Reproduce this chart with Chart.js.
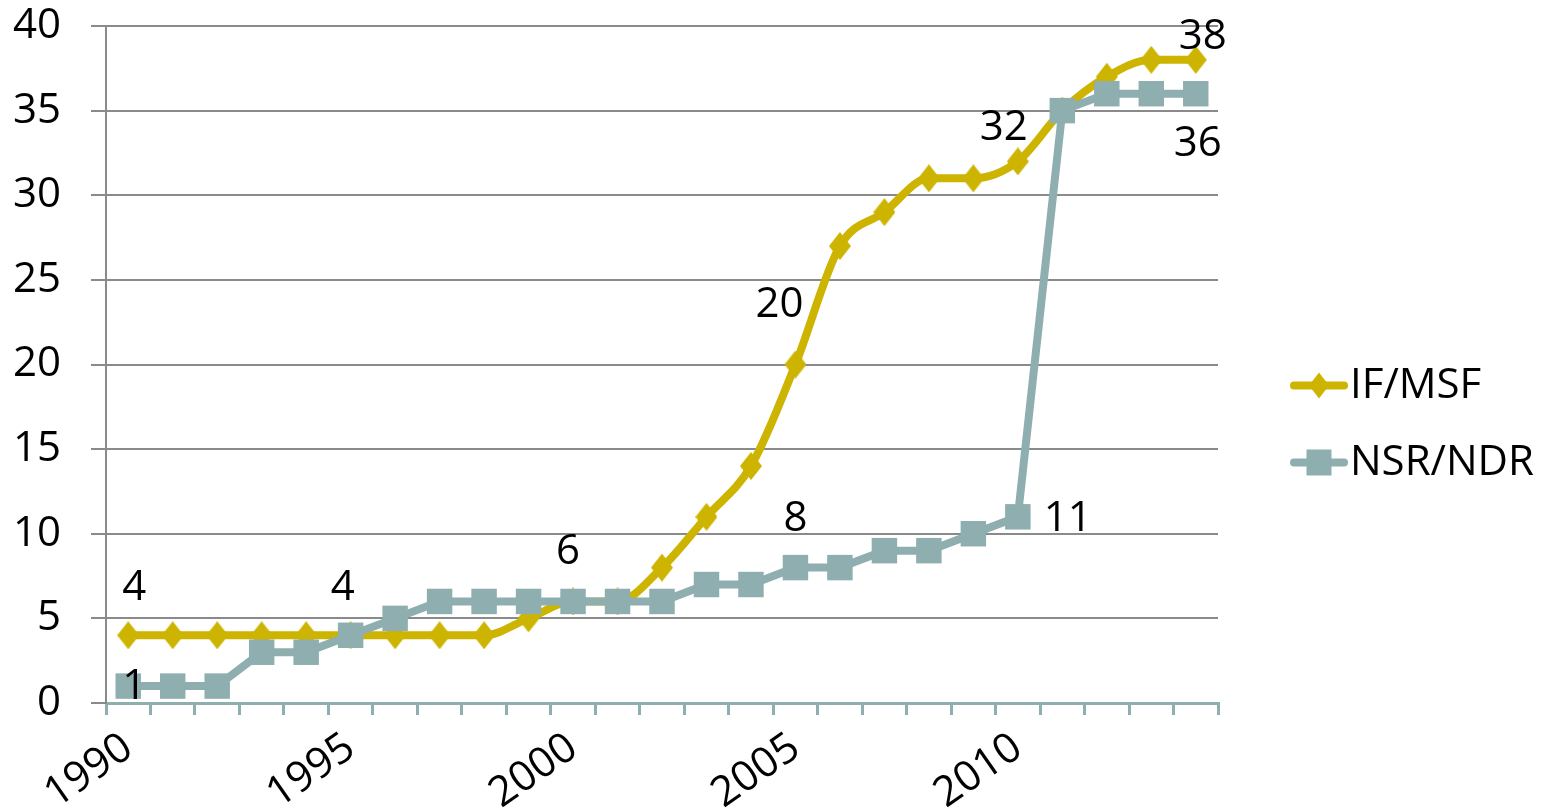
<!DOCTYPE html>
<html>
<head>
<meta charset="utf-8">
<script src="https://cdn.jsdelivr.net/npm/chart.js@4.4.1/dist/chart.umd.min.js"></script>
<style>
    html, body { margin: 0; padding: 0; background: #ffffff; }
</style>
</head>
<body>
<canvas id="growthChart" width="1547" height="810"></canvas>
<script>
const years = ['1990','1991','1992','1993','1994','1995','1996','1997','1998','1999','2000','2001','2002',
               '2003','2004','2005','2006','2007','2008','2009','2010','2011','2012','2013','2014'];
const shownYears = ['1990','1995','2000','2005','2010'];
const ifMsf = [4,4,4,4,4,4,4,4,4,5,6,6,8,11,14,20,27,29,31,31,32,35,37,38,38];
const nsrNdr = [1,1,1,3,3,4,5,6,6,6,6,6,6,7,7,8,8,9,9,10,11,35,36,36,36];
const yTicks = [0,5,10,15,20,25,30,35,40];
const seriesNames = ['IF/MSF','NSR/NDR'];
// which points carry a value label
const ifLabelled = [0,5,10,15,20,24];
const nsrLabelled = [0,15,20,24];

const GOLD = '#CDB400';
const TEAL = '#8EAEAF';
const GRID = '#8A8A8A';
const FONT = "'Open Sans', 'Liberation Sans', sans-serif";

// label offsets (px) from the point, per dataset index
const labelOffsets = [
    {0:[6,-47], 5:[-8,-47], 10:[-5,-49], 15:[-16,-59], 20:[-14,-33], 24:[7,-23]},
    {0:[6,1], 15:[0,-49], 20:[50,2], 24:[2,50]}
];

// Excel style diamond: a bit taller than wide
function makeDiamond(w, h, color) {
    const c = document.createElement('canvas');
    c.width = w;
    c.height = h;
    const g = c.getContext('2d');
    g.fillStyle = color;
    g.beginPath();
    g.moveTo(w / 2, 0);
    g.lineTo(w, h / 2);
    g.lineTo(w / 2, h);
    g.lineTo(0, h / 2);
    g.closePath();
    g.fill();
    return c;
}
const diamond = makeDiamond(22, 28, GOLD);

// draws the numbers next to the points
const valueLabels = {
    id: 'valueLabels',
    afterDatasetsDraw(chart) {
        const ctx = chart.ctx;
        const picks = [ifLabelled, nsrLabelled];
        ctx.save();
        ctx.font = '42px ' + FONT;
        ctx.fillStyle = '#000';
        ctx.textAlign = 'center';
        ctx.textBaseline = 'middle';
        chart.data.datasets.forEach((ds, d) => {
            const meta = chart.getDatasetMeta(d);
            picks[d].forEach(i => {
                const pt = meta.data[i];
                const off = labelOffsets[d][i];
                ctx.fillText(String(ds.data[i]), pt.x + off[0], pt.y + off[1]);
            });
        });
        ctx.restore();
    }
};

// legend on the right: line + marker + name
const sideLegend = {
    id: 'sideLegend',
    afterDraw(chart) {
        const ctx = chart.ctx;
        const area = chart.chartArea;
        const x0 = area.right + 72;
        const mid = (area.top + area.bottom) / 2;
        const rows = [mid + 21, mid + 98];
        ctx.save();
        chart.data.datasets.forEach((ds, d) => {
            const y = rows[d];
            ctx.strokeStyle = ds.borderColor;
            ctx.lineWidth = 8;
            ctx.lineCap = 'round';
            ctx.beginPath();
            ctx.moveTo(x0 + 4, y);
            ctx.lineTo(x0 + 54, y);
            ctx.stroke();
            ctx.fillStyle = ds.borderColor;
            const cx = x0 + 29;
            ctx.beginPath();
            if (d === 0) {
                ctx.moveTo(cx, y - 13);
                ctx.lineTo(cx + 10, y);
                ctx.lineTo(cx, y + 13);
                ctx.lineTo(cx - 10, y);
                ctx.closePath();
            } else {
                ctx.rect(cx - 12.5, y - 13, 25, 26);
            }
            ctx.fill();
            ctx.fillStyle = '#000';
            ctx.font = '42px ' + FONT;
            ctx.textAlign = 'left';
            ctx.textBaseline = 'middle';
            ctx.fillText(ds.label, x0 + 60, y + 1);
        });
        ctx.restore();
    }
};

const ctx = document.getElementById('growthChart').getContext('2d');
const growthChart = new Chart(ctx, {
    type: 'line',
    data: {
        labels: years,
        datasets: [{
            label: seriesNames[0],
            data: ifMsf,
            borderColor: GOLD,
            backgroundColor: GOLD,
            borderWidth: 8,
            cubicInterpolationMode: 'monotone',
            borderJoinStyle: 'round',
            borderCapStyle: 'round',
            pointStyle: diamond,
            pointRadius: 13,
            pointBorderWidth: 0,
            order: 1
        }, {
            label: seriesNames[1],
            data: nsrNdr,
            borderColor: TEAL,
            backgroundColor: TEAL,
            borderWidth: 8,
            tension: 0,
            borderJoinStyle: 'round',
            borderCapStyle: 'round',
            pointStyle: 'rect',
            pointRadius: 18,
            pointBorderWidth: 0,
            order: 0
        }]
    },
    options: {
        responsive: false,
        devicePixelRatio: 1,
        animation: false,
        layout: {
            padding: { top: 0, right: 329, bottom: 0, left: 0 }
        },
        plugins: {
            legend: { display: false },
            tooltip: { enabled: false }
        },
        scales: {
            x: {
                offset: true,
                afterFit: (s) => { s.height = 107; },
                border: { color: TEAL, width: 3 },
                grid: {
                    offset: true,
                    drawOnChartArea: false,
                    drawTicks: true,
                    tickLength: 12,
                    tickColor: TEAL,
                    lineWidth: 3
                },
                ticks: {
                    autoSkip: false,
                    minRotation: 35,
                    maxRotation: 35,
                    padding: 8,
                    color: '#000',
                    font: { family: FONT, size: 42 },
                    callback: function (value) {
                        const lab = this.getLabelForValue(value);
                        return shownYears.includes(lab) ? lab : '';
                    }
                }
            },
            y: {
                min: 0,
                max: 40,
                afterFit: (s) => { s.width = 106; s.paddingTop = 26; s.paddingBottom = 0; },
                afterBuildTicks: (s) => { s.ticks = yTicks.map(v => ({ value: v })); },
                border: { color: GRID, width: 2 },
                grid: {
                    color: GRID,
                    lineWidth: 2,
                    tickLength: 15,
                    tickColor: GRID
                },
                ticks: {
                    padding: 30,
                    color: '#000',
                    font: { family: FONT, size: 42 }
                }
            }
        }
    },
    plugins: [valueLabels, sideLegend]
});
</script>
</body>
</html>
